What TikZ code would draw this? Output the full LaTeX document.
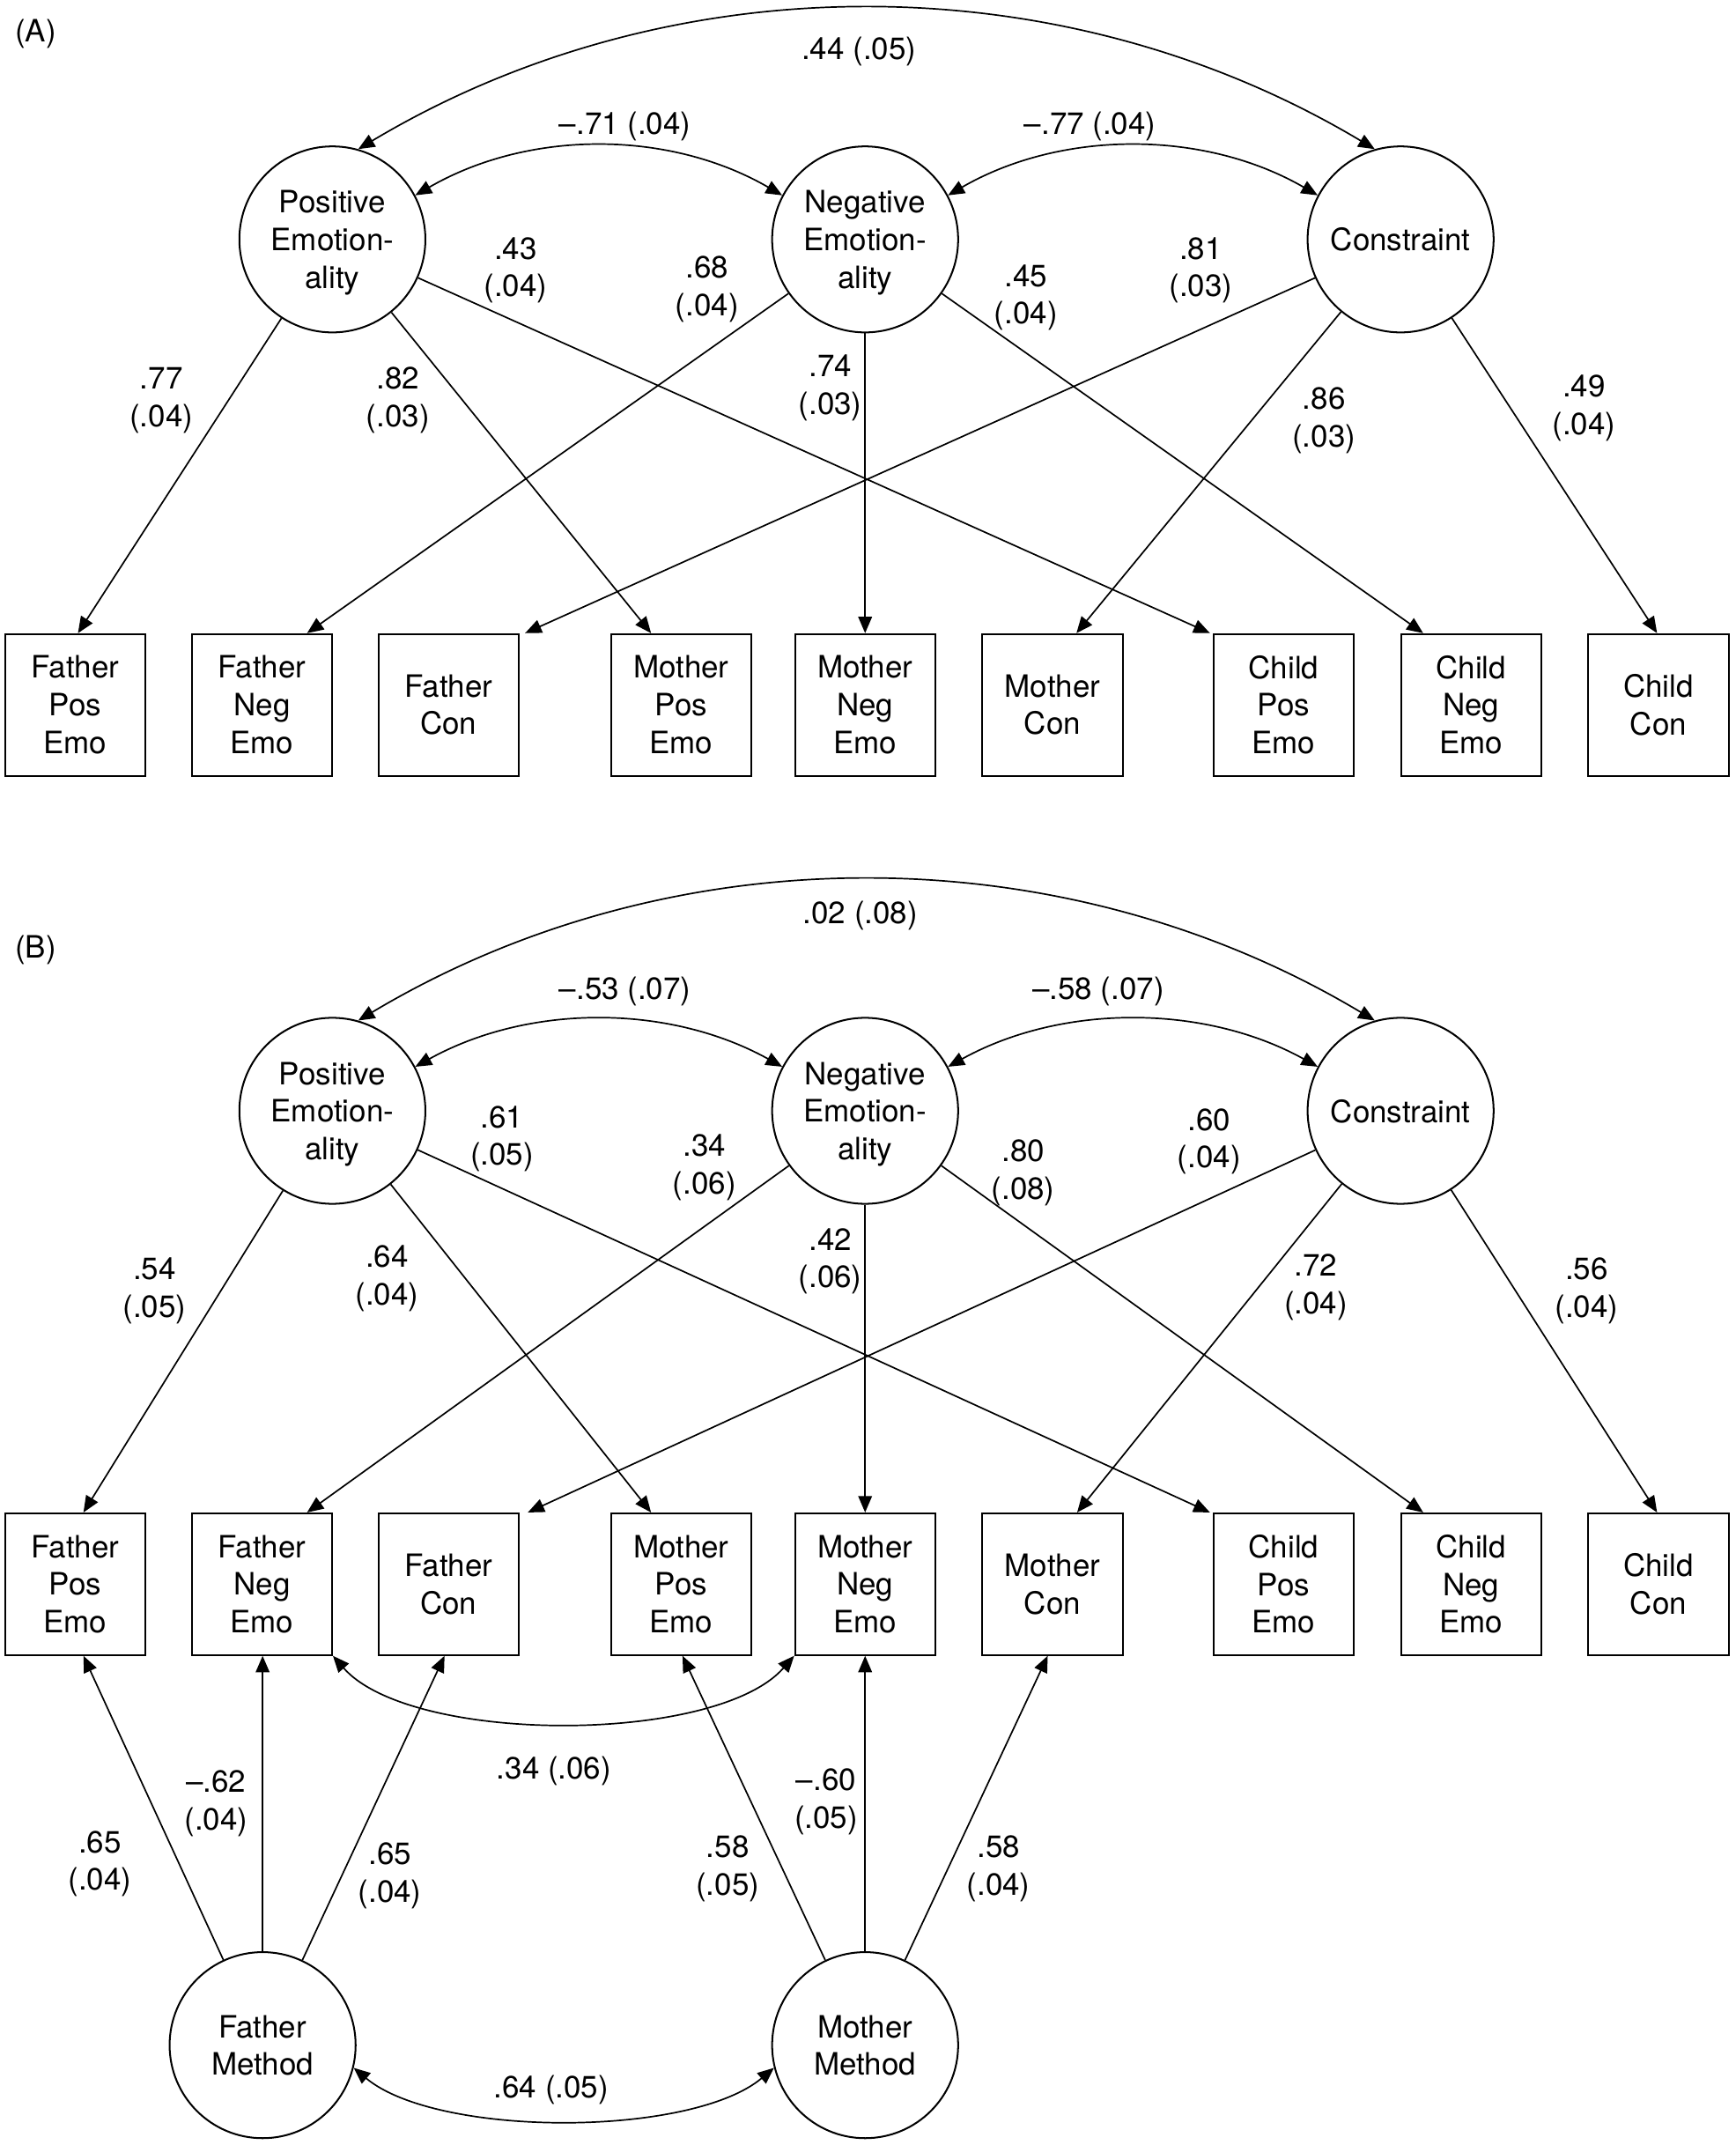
\documentclass[tikz,border=0pt]{standalone}
\usepackage{fontspec}
\setmainfont{TeX Gyre Heros}
\usetikzlibrary{arrows.meta}
\newcommand\lblfont{\fontsize{22.5}{27.5}\selectfont}
\begin{document}
\begin{tikzpicture}[x=1pt,y=-1pt,
  lat/.style={circle,draw,line width=1.3pt,minimum size=136pt,inner sep=0pt,align=center,font=\lblfont,text depth=0pt},
  obs/.style={rectangle,draw,line width=1.3pt,minimum width=102.5pt,minimum height=103.5pt,inner sep=0pt,align=center,font=\lblfont},
  lab/.style={align=center,inner sep=0pt,font=\lblfont,yshift=-2.5pt},
  load/.style={line width=1.1pt,-{Triangle[length=12pt,width=10pt]}},
  covar/.style={line width=1.1pt,{Triangle[length=12pt,width=10pt]}-{Triangle[length=12pt,width=10pt]}}]
\useasboundingbox (0,0) rectangle (1269,1568);

% ---------------- Panel A ----------------
\node[lab] (tA) at (26,22) {(A)};
\node[lat] (pa) at (243,175) {Positive\\Emotion-\\ality};
\node[lat] (na) at (632.5,175) {Negative\\Emotion-\\ality};
\node[lat] (ca) at (1024,175) {Constraint};

\node[obs] (fpeA) at (55,515.25) {Father\\Pos\\Emo};
\node[obs] (fneA) at (191.5,515.25) {Father\\Neg\\Emo};
\node[obs] (fconA) at (328,515.25) {Father\\Con};
\node[obs] (mpeA) at (498,515.25) {Mother\\Pos\\Emo};
\node[obs] (mneA) at (632.5,515.25) {Mother\\Neg\\Emo};
\node[obs] (mconA) at (769.5,515.25) {Mother\\Con};
\node[obs] (cpeA) at (938.5,515.25) {Child\\Pos\\Emo};
\node[obs] (cneA) at (1075.5,515.25) {Child\\Neg\\Emo};
\node[obs] (ccA) at (1212.5,515.25) {Child\\Con};

\draw[load] (pa) -- ([xshift=2pt]fpeA.north);
\draw[load] (pa) -- ([xshift=-22pt]mpeA.north);
\draw[load] (pa) -- ([xshift=-2pt]cpeA.north west);
\draw[load] (na) -- ([xshift=33pt]fneA.north);
\draw[load] (na) -- (na |- mneA.north);
\draw[load] (na) -- ([xshift=-35pt]cneA.north);
\draw[load] (ca) -- ([xshift=4pt]fconA.north east);
\draw[load] (ca) -- ([xshift=17.5pt]mconA.north);
\draw[load] (ca) -- ([xshift=-1pt]ccA.north);

\draw[covar] (pa.74) .. controls +(229,-137) and +(-229,-137) .. (ca.106);
\draw[covar] (pa.28) .. controls +(83,-48) and +(-83,-48) .. (na.152);
\draw[covar] (na.28) .. controls +(83,-48) and +(-83,-48) .. (ca.152);

\node[lab] (a1) at (628,35) {.44 (.05)};
\node[lab] (a2) at (457,90) {–.71 (.04)};
\node[lab] (a3) at (797,90) {–.77 (.04)};
\node[lab] (a4) at (118,290) {.77\\(.04)};
\node[lab] (a5) at (291,290) {.82\\(.03)};
\node[lab] (a6) at (377,195) {.43\\(.04)};
\node[lab] (a7) at (517,209) {.68\\(.04)};
\node[lab] (a8) at (607,281) {.74\\(.03)};
\node[lab] (a9) at (750,215) {.45\\(.04)};
\node[lab] (a10) at (878,195) {.81\\(.03)};
\node[lab] (a11) at (968,305) {.86\\(.03)};
\node[lab] (a12) at (1158,296) {.49\\(.04)};

% ---------------- Panel B ----------------
\node[lab] (tB) at (26,692) {(B)};
\node[lat] (pb) at (243,812) {Positive\\Emotion-\\ality};
\node[lat] (nb) at (632.5,812) {Negative\\Emotion-\\ality};
\node[lat] (cb) at (1024,812) {Constraint};

\node[obs] (fpeB) at (55,1158) {Father\\Pos\\Emo};
\node[obs] (fneB) at (191.5,1158) {Father\\Neg\\Emo};
\node[obs] (fconB) at (328,1158) {Father\\Con};
\node[obs] (mpeB) at (498,1158) {Mother\\Pos\\Emo};
\node[obs] (mneB) at (632.5,1158) {Mother\\Neg\\Emo};
\node[obs] (mconB) at (769.5,1158) {Mother\\Con};
\node[obs] (cpeB) at (938.5,1158) {Child\\Pos\\Emo};
\node[obs] (cneB) at (1075.5,1158) {Child\\Neg\\Emo};
\node[obs] (ccB) at (1212.5,1158) {Child\\Con};

\node[lat] (fm) at (192,1495) {Father\\Method};
\node[lat] (mm) at (632.5,1495) {Mother\\Method};

\draw[load] (pb) -- ([xshift=6pt]fpeB.north);
\draw[load] (pb) -- ([xshift=-22pt]mpeB.north);
\draw[load] (pb) -- ([xshift=-2pt]cpeB.north west);
\draw[load] (nb) -- ([xshift=33pt]fneB.north);
\draw[load] (nb) -- (nb |- mneB.north);
\draw[load] (nb) -- ([xshift=-35pt]cneB.north);
\draw[load] (cb) -- ([xshift=6pt]fconB.north east);
\draw[load] (cb) -- ([xshift=18pt]mconB.north);
\draw[load] (cb) -- ([xshift=-1pt]ccB.north);

\draw[load] (fm) -- ([xshift=6pt]fpeB.south);
\draw[load] (fm) -- (fm |- fneB.south);
\draw[load] (fm) -- ([xshift=-3pt]fconB.south);
\draw[load] (mm) -- ([xshift=1pt]mpeB.south);
\draw[load] (mm) -- (mm |- mneB.south);
\draw[load] (mm) -- ([xshift=-3.5pt]mconB.south);

\draw[covar] (pb.74) .. controls +(229,-137) and +(-229,-137) .. (cb.106);
\draw[covar] (pb.28) .. controls +(83,-46) and +(-83,-46) .. (nb.152);
\draw[covar] (nb.28) .. controls +(83,-46) and +(-83,-46) .. (cb.152);
\draw[covar] (fneB.south east) .. controls +(57,65) and +(-57,65) .. (mneB.south west);
\draw[covar] (fm.-14) .. controls +(61,51) and +(-61,51) .. (mm.194);

\node[lab] (b1) at (629,667) {.02 (.08)};
\node[lab] (b2) at (457,722) {–.53 (.07)};
\node[lab] (b3) at (803,722) {–.58 (.07)};
\node[lab] (b4) at (113,941) {.54\\(.05)};
\node[lab] (b5) at (283,932) {.64\\(.04)};
\node[lab] (b6) at (367,830) {.61\\(.05)};
\node[lab] (b7) at (515,851) {.34\\(.06)};
\node[lab] (b8) at (607,919.5) {.42\\(.06)};
\node[lab] (b9) at (748,855) {.80\\(.08)};
\node[lab] (b10) at (884,832) {.60\\(.04)};
\node[lab] (b11) at (962,938.5) {.72\\(.04)};
\node[lab] (b12) at (1160,941) {.56\\(.04)};
\node[lab] (b13) at (405,1292) {.34 (.06)};
\node[lab] (b14) at (158,1316) {–.62\\(.04)};
\node[lab] (b15) at (73,1360) {.65\\(.04)};
\node[lab] (b16) at (285,1368.5) {.65\\(.04)};
\node[lab] (b17) at (532,1363.5) {.58\\(.05)};
\node[lab] (b18) at (604,1314.5) {–.60\\(.05)};
\node[lab] (b19) at (730,1363.5) {.58\\(.04)};
\node[lab] (b20) at (403,1525) {.64 (.05)};
\end{tikzpicture}
\end{document}
